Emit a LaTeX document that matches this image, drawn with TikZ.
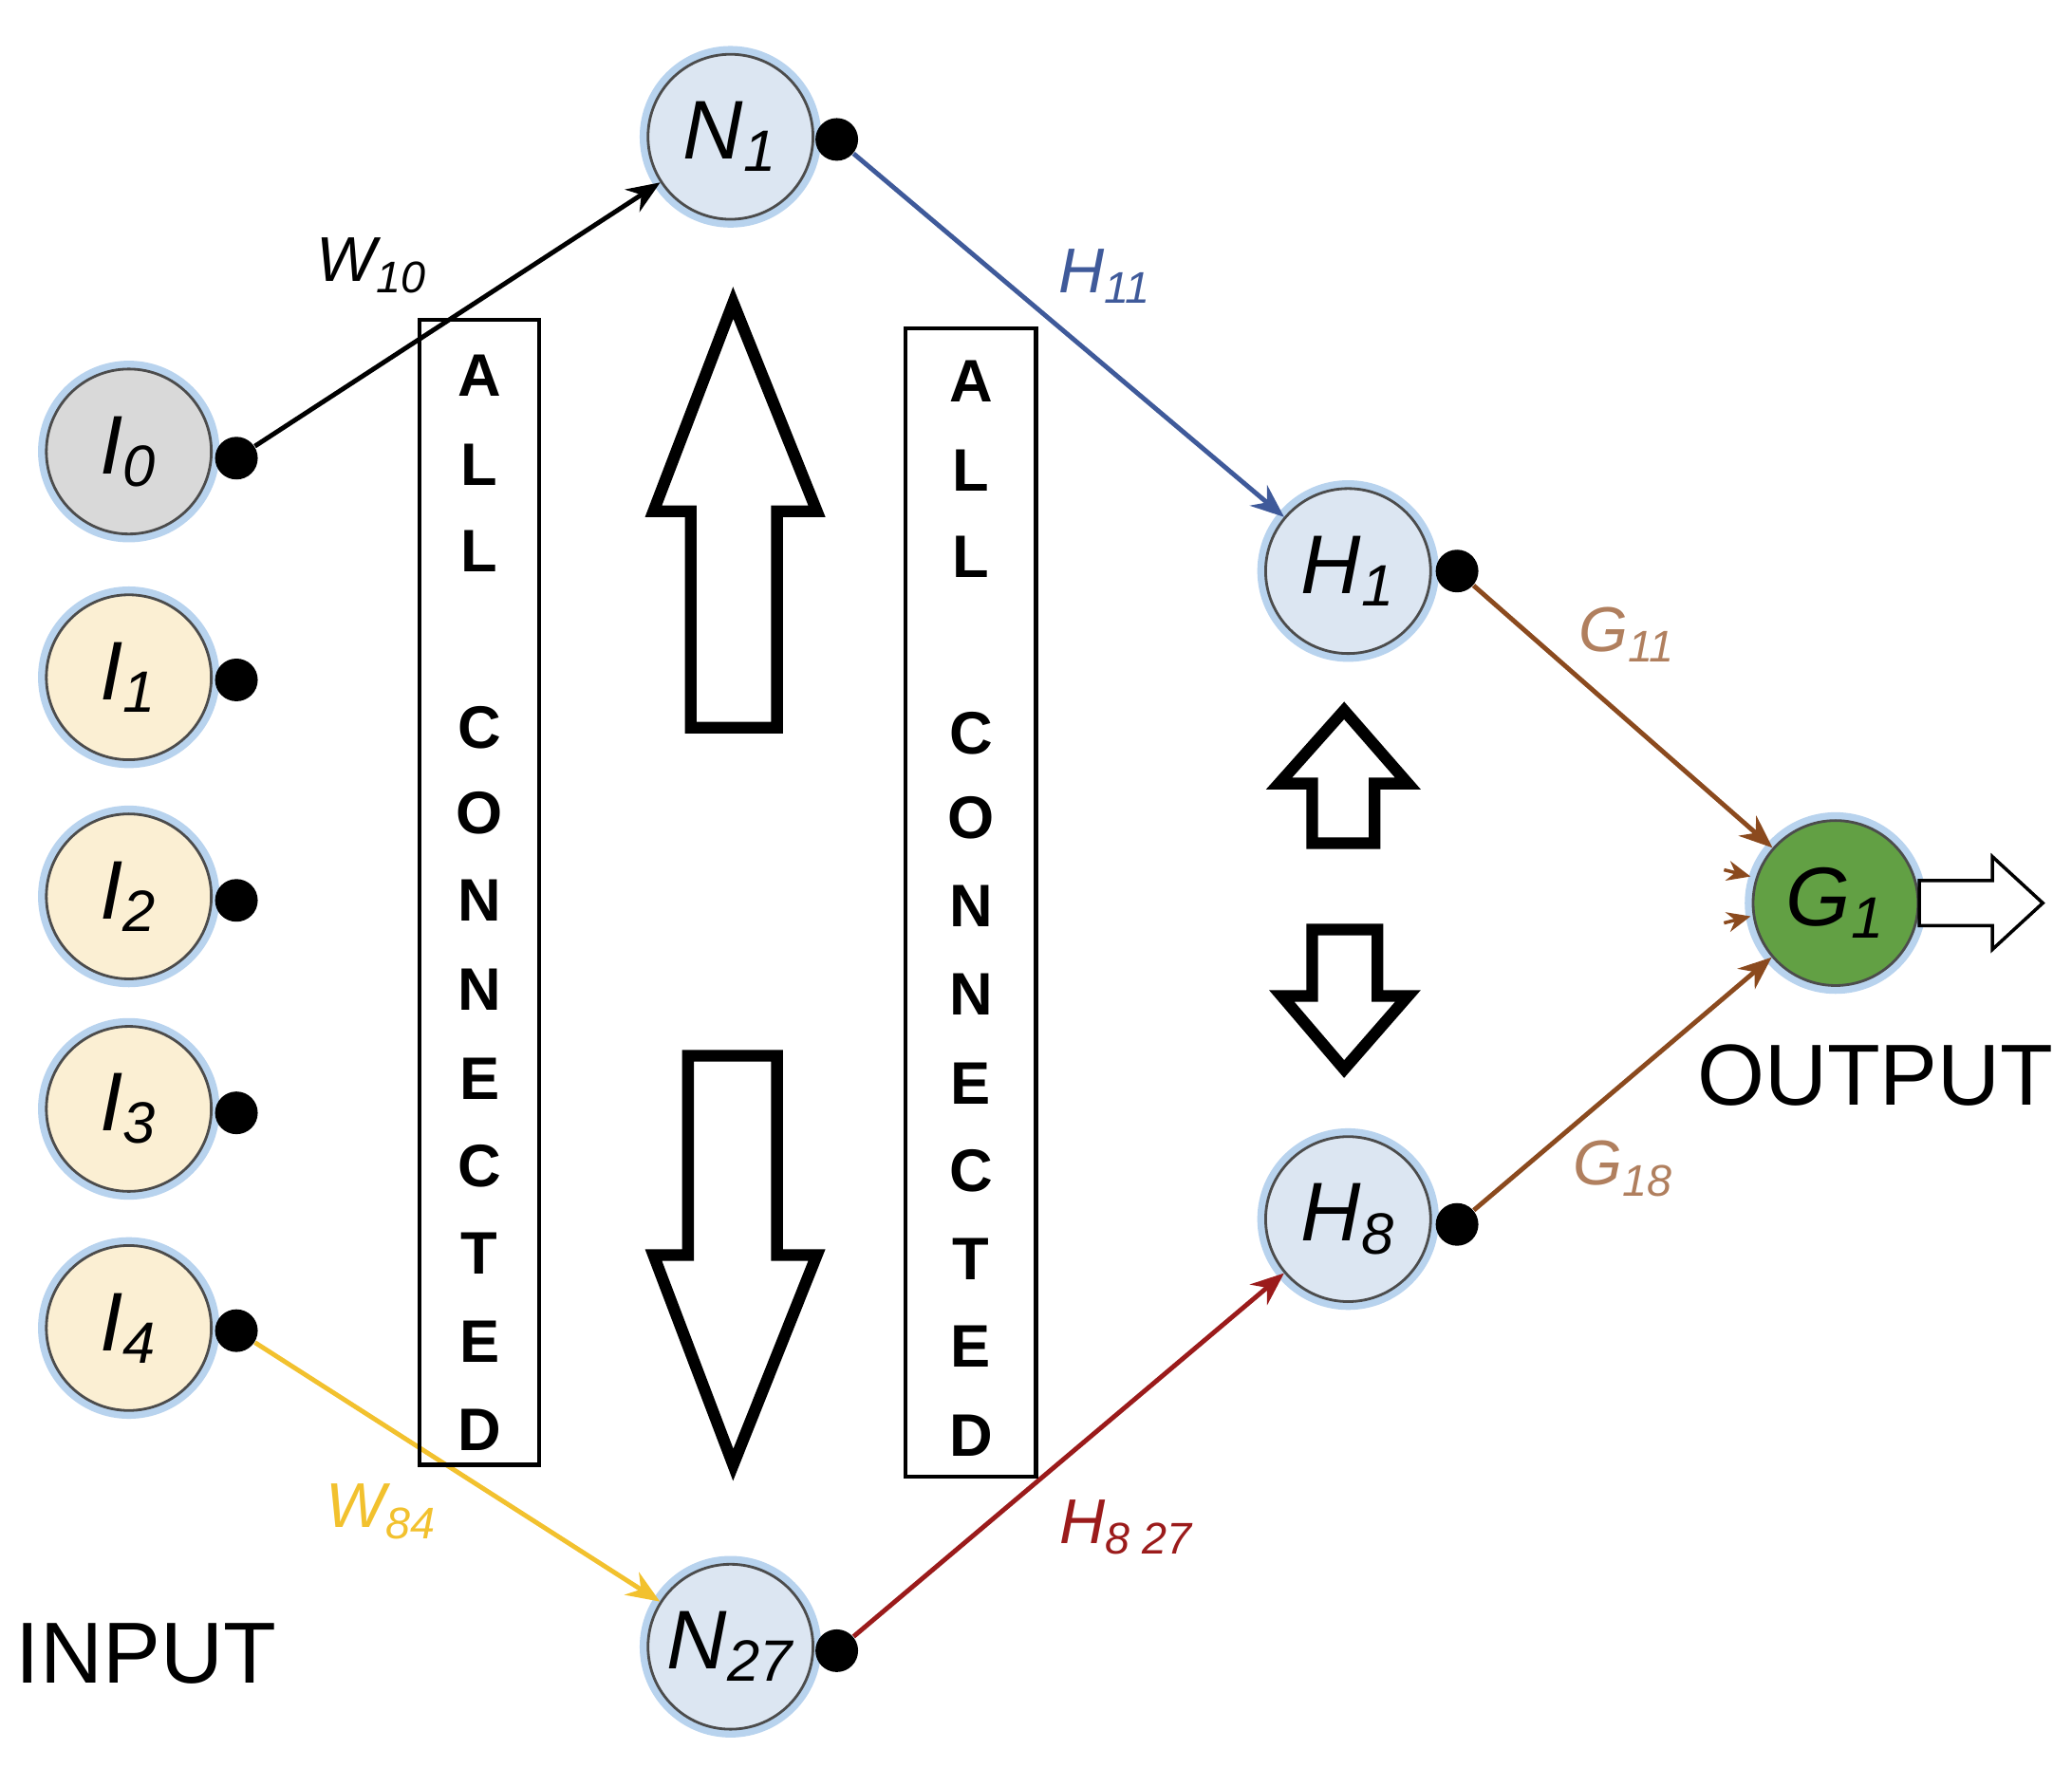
\documentclass[tikz,border=0pt]{standalone}
\usepackage{fontspec}
\setmainfont{Liberation Sans}
\usetikzlibrary{arrows.meta}
\definecolor{glow}{HTML}{B8D3EE}
\definecolor{nblue}{HTML}{DCE6F2}
\definecolor{nyel}{HTML}{FBEFD3}
\definecolor{ngray}{HTML}{D9D9D9}
\definecolor{ngreen}{HTML}{62A044}
\definecolor{cblue}{HTML}{3F5A9A}
\definecolor{cbrown}{HTML}{8B4A1E}
\definecolor{lbrown}{HTML}{B07F5E}
\definecolor{cgold}{HTML}{F2C12E}
\definecolor{cred}{HTML}{9B1B1B}
\tikzset{
 neur/.style={circle,draw=black!70,line width=0.8pt,minimum size=1.74cm,inner sep=0pt,
   font=\fontsize{25}{25}\selectfont\itshape,
   preaction={draw=glow,line width=5pt}},
 dot/.style={circle,fill=black,minimum size=0.45cm,inner sep=0pt},
 conn/.style={line width=1.4pt,-{Stealth[length=10pt,width=8pt]}},
 lab/.style={font=\fontsize{19}{19}\selectfont\itshape},
 letter/.style={font=\fontsize{18}{18}\selectfont\bfseries},
 big/.style={font=\fontsize{26}{26}\selectfont},
 fat/.style={draw=black,line width=3.5pt,fill=white,line join=miter}
}
\begin{document}
\begin{tikzpicture}[x=0.014cm,y=-0.014cm]
\useasboundingbox (0,0) rectangle (1560,1331);
% nodes
\node[neur,fill=ngray] (I0) at (97,340) {I\textsubscript{0}};
\node[neur,fill=nyel] (I1) at (97,510) {I\textsubscript{1}};
\node[neur,fill=nyel] (I2) at (97,675) {I\textsubscript{2}};
\node[neur,fill=nyel] (I3) at (97,835) {I\textsubscript{3}};
\node[neur,fill=nyel] (I4) at (97,1000) {I\textsubscript{4}};
\node[neur,fill=nblue] (N1) at (550,103) {N\textsubscript{1}};
\node[neur,fill=nblue] (N27) at (550,1240) {N\textsubscript{27}};
\node[neur,fill=nblue] (H1) at (1015,430) {H\textsubscript{1}};
\node[neur,fill=nblue] (H8) at (1015,918) {H\textsubscript{8}};
\node[neur,fill=ngreen] (G1) at (1382,680) {G\textsubscript{1}};
% dots
\node[dot] (dI0) at (178,345) {};
\node[dot] (dI1) at (178,512) {};
\node[dot] (dI2) at (178,678) {};
\node[dot] (dI3) at (178,838) {};
\node[dot] (dI4) at (178,1002) {};
\node[dot] (dN1) at (630,105) {};
\node[dot] (dN27) at (630,1243) {};
\node[dot] (dH1) at (1097,430) {};
\node[dot] (dH8) at (1097,922) {};
% connectors
\draw[conn,black] (dI0) -- (N1);
\draw[conn,cblue] (dN1) -- (H1);
\draw[conn,cbrown] (dH1) -- (G1);
\draw[conn,cbrown] (dH8) -- (G1);
\draw[conn,cgold] (dI4) -- (N27);
\draw[conn,cred] (dN27) -- (H8);
\coordinate (s1) at (1298,655); \coordinate (e1) at (1318,660);
\coordinate (s2) at (1298,695); \coordinate (e2) at (1318,690);
\draw[cbrown,line width=1pt,-{Stealth[length=7pt,width=6pt]}] (s1) -- (e1);
\draw[cbrown,line width=1pt,-{Stealth[length=7pt,width=6pt]}] (s2) -- (e2);
% labels
\node[lab] at (280,200) {W\textsubscript{10}};
\node[lab,cblue] at (832,208) {H\textsubscript{11}};
\node[lab,lbrown] at (1225,478) {G\textsubscript{11}};
\node[lab,lbrown] at (1222,880) {G\textsubscript{18}};
\node[lab,cgold] at (287,1138) {W\textsubscript{84}};
\node[lab,cred] at (848,1150) {H\textsubscript{8 27}};
\node[big] at (110,1245) {INPUT};
\node[big] at (1412,810) {OUTPUT};
% boxes
\draw[line width=1.2pt] (316,241) rectangle (406,1103);
\draw[line width=1.2pt] (682,247) rectangle (780,1112);
\foreach \ch/\yy in {A/283,L/350,L/415,C/548,O/612,N/678,N/745,E/812,C/878,T/944,E/1010,D/1077}{
  \node[letter] at (361,\yy) {\ch};
  \node[letter] at (731,\yy+4) {\ch};
}
% fat arrows
\draw[fat] (552,228) -- (615,385) -- (585,385) -- (585,548) -- (520,548) -- (520,385) -- (492,385) -- cycle;
\draw[fat] (552,1103) -- (615,945) -- (585,945) -- (585,795) -- (518,795) -- (518,945) -- (492,945) -- cycle;
\draw[fat] (1012,535) -- (1060,590) -- (1035,590) -- (1035,635) -- (988,635) -- (988,590) -- (963,590) -- cycle;
\draw[fat] (1012,805) -- (1060,750) -- (1037,750) -- (1037,700) -- (988,700) -- (988,750) -- (965,750) -- cycle;
\draw[line width=1pt,fill=white] (1445,663) -- (1500,663) -- (1500,645) -- (1538,680) -- (1500,715) -- (1500,697) -- (1445,697) -- cycle;
\end{tikzpicture}
\end{document}
